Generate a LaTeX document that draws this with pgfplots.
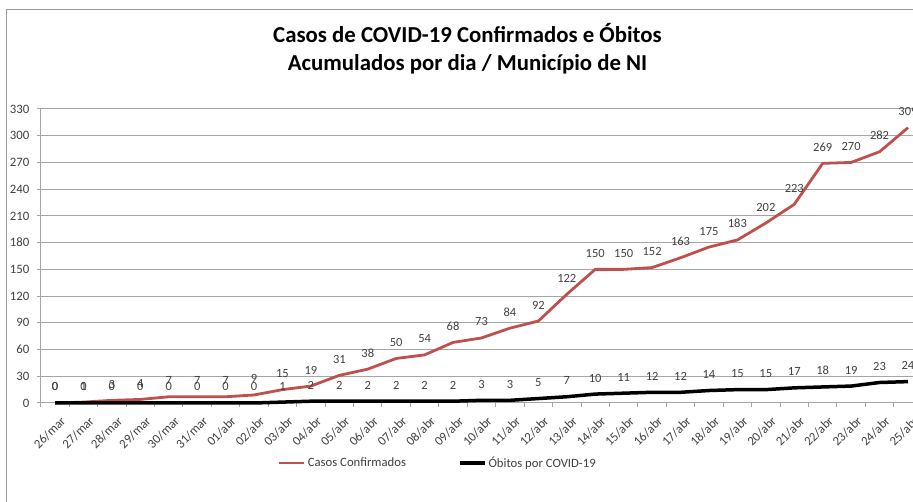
\documentclass[border=0pt]{standalone}
\usepackage{pgfplots}
\usepackage{pgfplotstable}
\pgfplotsset{compat=1.18}
\usepackage{fontspec}
\setmainfont{Carlito}
\definecolor{conf}{RGB}{192,80,77}
\definecolor{gridc}{RGB}{165,165,165}
\definecolor{txt}{RGB}{64,64,64}

\pgfplotstableread{
x c d
0 0 0
1 1 0
2 3 0
3 4 0
4 7 0
5 7 0
6 7 0
7 9 0
8 15 1
9 19 2
10 31 2
11 38 2
12 50 2
13 54 2
14 68 2
15 73 3
16 84 3
17 92 5
18 122 7
19 150 10
20 150 11
21 152 12
22 163 12
23 175 14
24 183 15
25 202 15
26 223 17
27 269 18
28 270 19
29 282 23
30 309 24
}\data

\begin{document}
\begin{tikzpicture}
\path[use as bounding box] (0,0) rectangle (913pt,502pt);
\draw[gray!80, line width=1pt] (6.5pt,0pt) -- (6.5pt,492pt) -- (913pt,492pt);
\node[font=\fontsize{22.8}{28}\selectfont\bfseries, align=center] at (467.5pt,453pt)
  {Casos de COVID-19 Confirmados e Óbitos\\Acumulados por dia / Município de NI};
\begin{axis}[
  at={(40.8pt,99pt)}, anchor=south west,
  scale only axis, width=881.4pt, height=294pt,
  xmin=-0.5, xmax=30.5, ymin=0, ymax=330,
  ytick={0,30,...,330},
  xtick={0,...,30},
  xticklabels={26/mar,27/mar,28/mar,29/mar,30/mar,31/mar,01/abr,02/abr,03/abr,04/abr,05/abr,06/abr,07/abr,08/abr,09/abr,10/abr,11/abr,12/abr,13/abr,14/abr,15/abr,16/abr,17/abr,18/abr,19/abr,20/abr,21/abr,22/abr,23/abr,24/abr,25/abr},
  minor xtick={-0.5,0.5,...,30.5},
  major x tick style={draw=none},
  minor x tick style={gridc, line width=1pt},
  ytick style={gridc, line width=1pt},
  tick align=outside,
  major tick length=4pt, minor tick length=4pt,
  axis x line*=bottom, axis y line*=left,
  axis line style={gridc, line width=1pt, -},
  ymajorgrids,
  grid style={gridc, line width=1pt},
  /pgf/number format/assume math mode=true,
  tick label style={font=\fontsize{12.8}{14}\selectfont, text=txt},
  yticklabel style={anchor=east, xshift=-4pt},
  xticklabel style={xshift=5pt, yshift=-7pt, rotate=45, anchor=north east, inner sep=1pt},
  nodes near coords,
  nodes near coords style={font=\fontsize{12.5}{14}\selectfont, text=txt, anchor=base, inner sep=0pt, yshift=12pt},
  legend columns=2,
  legend style={at={(0.269,-0.204)}, anchor=west, draw=none, fill=none,
    font=\fontsize{12.7}{14}\selectfont, text=txt,
    /tikz/every even column/.append style={column sep=50pt},
    inner sep=0pt},
  legend cell align=left,
  legend image code/.code={\draw[#1] (0pt,0pt) -- (25pt,0pt);},
  clip=false,
]
\addplot[conf, line width=2.8pt, line join=round] table[x=x, y=c] {\data};
\addlegendentry{Casos Confirmados}
\addplot[black, line width=3.5pt, line join=round] table[x=x, y=d] {\data};
\addlegendentry{Óbitos por COVID-19}
\end{axis}
\end{tikzpicture}
\end{document}
